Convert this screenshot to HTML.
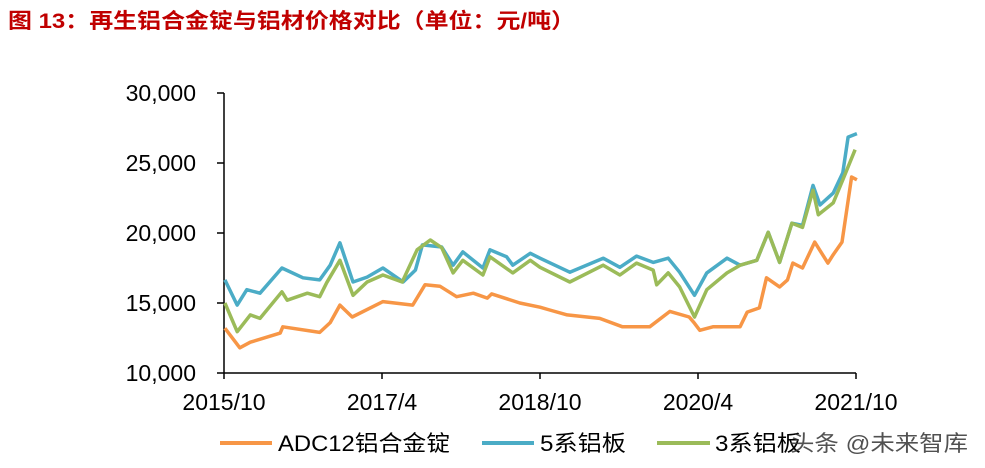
<!DOCTYPE html>
<html><head><meta charset="utf-8"><style>
body{margin:0;width:985px;height:463px;background:#fff;overflow:hidden;font-family:"Liberation Sans","Noto Sans CJK SC",sans-serif}
</style></head><body>
<svg id="chart" width="985" height="463" viewBox="0 0 985 463" xmlns="http://www.w3.org/2000/svg" font-family="Liberation Sans, Noto Sans CJK SC, sans-serif">
<text x="8" y="28" font-size="21" font-weight="bold" fill="#c00000" textLength="567" lengthAdjust="spacingAndGlyphs">图 13：再生铝合金锭与铝材价格对比（单位：元/吨）</text>
<g id="axes"></g>
<g id="series"></g>
<g font-size="22" fill="#000">
<line x1="220" y1="443" x2="272" y2="443" stroke="#f79646" stroke-width="4"/>
<text x="278" y="451" textLength="172" lengthAdjust="spacingAndGlyphs">ADC12铝合金锭</text>
<line x1="482" y1="443" x2="534" y2="443" stroke="#4bacc6" stroke-width="4"/>
<text x="540" y="451" textLength="86" lengthAdjust="spacingAndGlyphs">5系铝板</text>
<line x1="657" y1="443" x2="710" y2="443" stroke="#9bbb59" stroke-width="4"/>
<text x="715" y="451" textLength="86" lengthAdjust="spacingAndGlyphs">3系铝板</text>
</g>
<text x="790" y="451" font-size="22" fill="#333" opacity="0.85" textLength="178" lengthAdjust="spacingAndGlyphs">头条 @未来智库</text>
</svg>
<script>
const yTicks=[10000,15000,20000,25000,30000];
const yTickLabels=["10,000","15,000","20,000","25,000","30,000"];
const xTicks=[0,18,36,54,72];
const xTickLabels=["2015/10","2017/4","2018/10","2020/4","2021/10"];
const adcMonths=[0.1,1.8,3.0,6.4,6.7,10.9,12.1,13.2,14.6,18.1,21.5,22.9,24.6,26.5,28.4,30.0,30.5,33.7,36.0,37.1,39.1,42.8,45.4,48.5,50.8,53.0,53.6,54.2,55.7,58.8,59.6,61.0,61.8,63.3,64.2,64.8,65.9,67.3,68.8,69.4,70.4,71.5,72.1];
const adcValues=[13200,11800,12200,12850,13300,12900,13600,14850,14000,15100,14850,16300,16200,15450,15700,15350,15650,15000,14700,14500,14150,13900,13300,13300,14400,14000,13550,13050,13300,13300,14350,14650,16800,16150,16650,17850,17500,19350,17850,18450,19350,24000,23800];
const s5Months=[0.1,1.5,2.6,4.1,6.6,9.0,10.9,12.1,13.2,14.7,16.3,18.1,20.4,21.8,22.6,24.8,26.1,27.2,29.5,30.3,32.2,32.9,34.9,36.0,39.4,43.2,45.1,47.0,48.9,50.6,51.9,53.6,55.0,57.3,58.8,60.7,62.0,63.3,64.7,65.9,67.1,67.9,69.4,70.5,71.1,72.1];
const s5Values=[16650,14850,15950,15700,17500,16800,16650,17700,19300,16500,16850,17500,16500,17350,19150,19000,17700,18650,17500,18800,18300,17700,18550,18200,17200,18200,17550,18350,17900,18200,17200,15550,17150,18200,17700,18050,20050,17900,20700,20550,23400,22000,22850,24300,26850,27100];
const s3Months=[0.1,1.5,3.0,4.1,6.6,7.2,9.5,10.9,11.7,13.2,14.7,16.3,18.1,20.3,22.0,23.5,24.8,26.1,27.2,29.5,30.3,32.9,34.9,36.0,39.4,43.2,45.1,47.0,48.9,49.3,50.6,51.9,53.6,55.0,57.3,58.8,60.7,62.0,63.3,64.7,65.9,67.1,67.7,69.4,70.5,71.9];
const s3Values=[15000,12950,14150,13900,15800,15200,15700,15450,16450,18050,15550,16500,17000,16500,18800,19500,18950,17150,18050,17000,18300,17150,18050,17550,16500,17700,17000,17850,17350,16300,17150,16150,14000,15950,17150,17700,18050,20050,17900,20700,20400,23050,21300,22150,23800,25950];

const X0=224,X1=856,Y0=373,Y1=93;
const xs=m=>X0+(m/72)*(X1-X0);
const ys=v=>Y0-(v-10000)/20000*(Y0-Y1);
const NS="http://www.w3.org/2000/svg";
const axes=document.getElementById('axes');
function mk(tag,attrs,parent){const e=document.createElementNS(NS,tag);for(const k in attrs)e.setAttribute(k,attrs[k]);parent.appendChild(e);return e;}
let e=mk('line',{x1:X0,y1:Y1,x2:X0,y2:Y0,stroke:'#000','stroke-width':1.5},axes);


e=mk('line',{x1:X0,y1:Y0,x2:X1,y2:Y0,stroke:'#000','stroke-width':1.5},axes);


yTicks.forEach((v,i)=>{
  const y=ys(v);
  let t=mk('line',{x1:X0-7,y1:y,x2:X0,y2:y,stroke:'#000','stroke-width':1.5},axes);
  
  
  let l=mk('text',{x:196,y:y+8,'text-anchor':'end','font-size':23,fill:'#000'},axes);
  l.textContent=yTickLabels[i];
  
  
});
xTicks.forEach((m,i)=>{
  const x=xs(m);
  let t=mk('line',{x1:x,y1:Y0,x2:x,y2:Y0+6,stroke:'#000','stroke-width':1.5},axes);
  
  
  let l=mk('text',{x:x,y:410,'text-anchor':'middle','font-size':23,fill:'#000'},axes);
  l.textContent=xTickLabels[i];
  
  
});
const ser=document.getElementById('series');
function line(ms,vs,color,name){
  const pts=ms.map((m,i)=>xs(m).toFixed(1)+','+ys(vs[i]).toFixed(1)).join(' ');
  const p=mk('polyline',{points:pts,fill:'none',stroke:color,'stroke-width':3.5,'stroke-linejoin':'round'},ser);
  
  
}
line(adcMonths,adcValues,'#f79646','series-adc12');
line(s5Months,s5Values,'#4bacc6','series-5-series-plate');
line(s3Months,s3Values,'#9bbb59','series-3-series-plate');
</script>
</body></html>
